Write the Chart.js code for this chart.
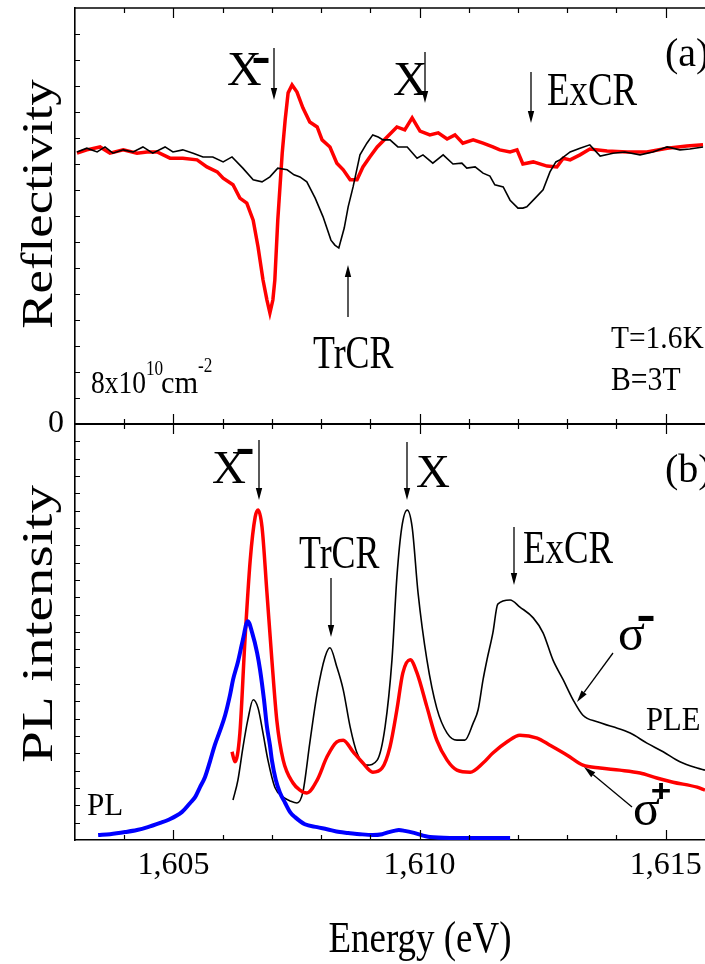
<!DOCTYPE html>
<html><head><meta charset="utf-8">
<script src="https://cdn.jsdelivr.net/npm/chart.js@4.4.1/dist/chart.umd.min.js"></script>
<style>
html,body{margin:0;padding:0;background:#fff;width:705px;height:964px;overflow:hidden;}
#ca{position:absolute;left:0;top:0;}
#cb{position:absolute;left:0;top:420px;}
</style></head><body>
<canvas id="ca" width="705" height="450"></canvas>
<canvas id="cb" width="705" height="544"></canvas>
<script>
// ---------- data ----------
const energyMin = 1.603, energyMax = 1.6158;
const xTickValues = [1.605, 1.610, 1.615];
const xTickLabels = ['1,605', '1,610', '1,615'];
const reflTickValues = [0];
const reflTickLabels = ['0'];

// (a) reflectivity, black trace  [energy eV, reflectivity a.u.]
const reflBlack = [[1.60304,0.654],[1.60324,0.663],[1.60345,0.654],[1.60361,0.666],[1.60377,0.651],[1.60398,0.659],[1.60418,0.654],[1.60438,0.666],[1.60458,0.651],[1.60483,0.666],[1.60499,0.654],[1.60519,0.659],[1.60540,0.651],[1.60560,0.642],[1.60580,0.642],[1.60601,0.630],[1.60619,0.642],[1.60641,0.615],[1.60662,0.587],[1.60680,0.582],[1.60696,0.594],[1.60712,0.615],[1.60731,0.611],[1.60745,0.599],[1.60757,0.594],[1.60771,0.582],[1.60788,0.543],[1.60804,0.498],[1.60820,0.442],[1.60828,0.430],[1.60836,0.423],[1.60847,0.471],[1.60855,0.522],[1.60865,0.570],[1.60871,0.603],[1.60879,0.647],[1.60893,0.675],[1.60905,0.695],[1.60916,0.690],[1.60926,0.683],[1.60940,0.683],[1.60956,0.666],[1.60975,0.666],[1.60995,0.639],[1.61007,0.647],[1.61027,0.627],[1.61048,0.647],[1.61068,0.625],[1.61086,0.627],[1.61096,0.615],[1.61113,0.618],[1.61129,0.603],[1.61143,0.596],[1.61153,0.575],[1.61170,0.570],[1.61184,0.538],[1.61200,0.519],[1.61210,0.519],[1.61218,0.522],[1.61235,0.543],[1.61251,0.563],[1.61265,0.606],[1.61277,0.630],[1.61285,0.635],[1.61306,0.654],[1.61326,0.663],[1.61346,0.671],[1.61367,0.644],[1.61393,0.651],[1.61417,0.654],[1.61448,0.647],[1.61474,0.654],[1.61503,0.666],[1.61529,0.659],[1.61549,0.661],[1.61576,0.666]];

// (a) reflectivity, red trace
const reflRed = [[1.60304,0.651],[1.60324,0.659],[1.60351,0.666],[1.60371,0.651],[1.60398,0.659],[1.60426,0.651],[1.60446,0.654],[1.60467,0.654],[1.60493,0.639],[1.60519,0.639],[1.60548,0.635],[1.60568,0.618],[1.60589,0.606],[1.60601,0.591],[1.60621,0.575],[1.60635,0.543],[1.60649,0.531],[1.60662,0.490],[1.60672,0.425],[1.60682,0.346],[1.60690,0.298],[1.60696,0.267],[1.60702,0.298],[1.60706,0.346],[1.60712,0.490],[1.60721,0.651],[1.60727,0.731],[1.60733,0.796],[1.60741,0.815],[1.60751,0.798],[1.60763,0.760],[1.60777,0.726],[1.60792,0.714],[1.60802,0.683],[1.60818,0.666],[1.60832,0.627],[1.60845,0.611],[1.60859,0.587],[1.60873,0.587],[1.60885,0.618],[1.60899,0.642],[1.60914,0.666],[1.60934,0.690],[1.60954,0.714],[1.60970,0.707],[1.60985,0.736],[1.61001,0.704],[1.61021,0.695],[1.61038,0.700],[1.61056,0.685],[1.61072,0.695],[1.61088,0.675],[1.61109,0.683],[1.61129,0.675],[1.61149,0.666],[1.61163,0.659],[1.61184,0.654],[1.61198,0.659],[1.61210,0.625],[1.61231,0.630],[1.61259,0.620],[1.61279,0.618],[1.61292,0.639],[1.61306,0.635],[1.61326,0.647],[1.61346,0.661],[1.61381,0.656],[1.61422,0.654],[1.61462,0.654],[1.61503,0.663],[1.61543,0.668],[1.61576,0.671]];

// (b) PLE sigma- (black)
const pleSigmaMinus = [[1.60621,0.096],[1.60631,0.144],[1.60641,0.221],[1.60651,0.288],[1.60662,0.337],[1.60672,0.317],[1.60682,0.257],[1.60692,0.192],[1.60706,0.127],[1.60723,0.103],[1.60737,0.094],[1.60751,0.089],[1.60763,0.115],[1.60777,0.233],[1.60792,0.353],[1.60808,0.440],[1.60818,0.462],[1.60832,0.416],[1.60845,0.361],[1.60859,0.272],[1.60873,0.209],[1.60893,0.180],[1.60914,0.192],[1.60930,0.272],[1.60944,0.433],[1.60954,0.632],[1.60964,0.752],[1.60975,0.793],[1.60985,0.752],[1.60997,0.594],[1.61015,0.433],[1.61035,0.317],[1.61056,0.257],[1.61076,0.240],[1.61092,0.240],[1.61109,0.281],[1.61119,0.313],[1.61129,0.385],[1.61137,0.433],[1.61149,0.498],[1.61159,0.567],[1.61184,0.577],[1.61204,0.560],[1.61231,0.534],[1.61251,0.498],[1.61271,0.433],[1.61292,0.385],[1.61312,0.337],[1.61332,0.300],[1.61361,0.284],[1.61393,0.272],[1.61428,0.257],[1.61462,0.233],[1.61495,0.212],[1.61529,0.188],[1.61564,0.173],[1.61580,0.168]];

// (b) PLE sigma+ (red)
const pleSigmaPlus = [[1.60619,0.212],[1.60625,0.188],[1.60635,0.257],[1.60645,0.474],[1.60656,0.673],[1.60666,0.776],[1.60672,0.793],[1.60680,0.752],[1.60690,0.594],[1.60700,0.433],[1.60710,0.288],[1.60723,0.192],[1.60743,0.137],[1.60757,0.120],[1.60771,0.113],[1.60792,0.144],[1.60812,0.200],[1.60832,0.236],[1.60845,0.240],[1.60865,0.212],[1.60885,0.185],[1.60905,0.163],[1.60924,0.173],[1.60940,0.224],[1.60954,0.313],[1.60966,0.401],[1.60981,0.433],[1.60995,0.401],[1.61015,0.320],[1.61035,0.240],[1.61056,0.192],[1.61076,0.168],[1.61103,0.163],[1.61129,0.185],[1.61149,0.209],[1.61178,0.236],[1.61204,0.252],[1.61239,0.245],[1.61265,0.228],[1.61300,0.204],[1.61332,0.180],[1.61367,0.173],[1.61407,0.168],[1.61448,0.161],[1.61482,0.149],[1.61515,0.139],[1.61564,0.127],[1.61580,0.120]];

// (b) PL (blue)
const plSpectrum = [[1.60347,0.012],[1.60371,0.014],[1.60402,0.019],[1.60426,0.024],[1.60448,0.031],[1.60473,0.041],[1.60489,0.048],[1.60517,0.067],[1.60534,0.089],[1.60544,0.103],[1.60554,0.127],[1.60564,0.151],[1.60574,0.188],[1.60584,0.228],[1.60595,0.264],[1.60605,0.300],[1.60615,0.349],[1.60621,0.385],[1.60631,0.428],[1.60641,0.481],[1.60651,0.526],[1.60660,0.498],[1.60670,0.450],[1.60676,0.409],[1.60684,0.337],[1.60690,0.272],[1.60696,0.228],[1.60700,0.192],[1.60708,0.144],[1.60716,0.115],[1.60727,0.089],[1.60737,0.067],[1.60747,0.055],[1.60767,0.038],[1.60792,0.031],[1.60812,0.026],[1.60838,0.019],[1.60855,0.017],[1.60879,0.014],[1.60905,0.012],[1.60924,0.014],[1.60938,0.019],[1.60948,0.022],[1.60958,0.024],[1.60970,0.022],[1.60989,0.017],[1.61021,0.007],[1.61062,0.005],[1.61105,0.005],[1.61143,0.005],[1.61184,0.005]];

// ---------- helpers ----------
const FONT = '"Liberation Serif","Times New Roman",serif';
const SANS = '"Liberation Sans",Arial,sans-serif';
Chart.defaults.font.family = FONT;
Chart.defaults.color = '#000';

const pts = arr => arr.map(p => ({x: p[0], y: p[1]}));
const xMinor = [];
for (let i = 1; i <= 12; i++) xMinor.push(Math.round((1.603 + i * 0.001) * 1e6) / 1e6);
const isMajor = v => xTickValues.some(t => Math.abs(t - v) < 1e-7);

function drawText(ctx, s, x, y, size, sx, o) {
  o = o || {};
  ctx.save();
  ctx.translate(x, y);
  if (o.rot) ctx.rotate(o.rot);
  ctx.scale(sx || 1, 1);
  ctx.font = (o.weight || 'normal') + ' ' + size + 'px ' + (o.family || FONT);
  ctx.textAlign = o.align || 'left';
  ctx.textBaseline = 'alphabetic';
  ctx.fillStyle = '#000';
  ctx.fillText(s, 0, 0);
  ctx.restore();
}
function drawArrow(ctx, x1, y1, x2, y2) {
  ctx.save();
  ctx.strokeStyle = '#000'; ctx.fillStyle = '#000'; ctx.lineWidth = 1.3;
  const a = Math.atan2(y2 - y1, x2 - x1), L = 12, W = 3.2;
  const bx = x2 - L * Math.cos(a), by = y2 - L * Math.sin(a);
  ctx.beginPath(); ctx.moveTo(x1, y1); ctx.lineTo(bx, by); ctx.stroke();
  ctx.beginPath(); ctx.moveTo(x2, y2);
  ctx.lineTo(bx + W * Math.sin(a), by - W * Math.cos(a));
  ctx.lineTo(bx - W * Math.sin(a), by + W * Math.cos(a));
  ctx.closePath(); ctx.fill();
  ctx.restore();
}
function drawFrame(chart, nY, topW, bottomLine, bottomW) {
  const ctx = chart.ctx, ca = chart.chartArea, x = chart.scales.x, y = chart.scales.y;
  ctx.save();
  ctx.strokeStyle = '#000';
  ctx.lineWidth = topW;
  ctx.beginPath(); ctx.moveTo(ca.left, ca.top); ctx.lineTo(ca.right, ca.top); ctx.stroke();
  if (bottomLine) {
    ctx.lineWidth = bottomW;
    ctx.beginPath(); ctx.moveTo(ca.left, ca.bottom); ctx.lineTo(ca.right, ca.bottom); ctx.stroke();
  }
  ctx.lineWidth = 1.2;
  ctx.beginPath();
  xMinor.forEach(v => {
    const px = Math.round(x.getPixelForValue(v)) + 0.5;
    const len = isMajor(v) ? 10 : 5;
    ctx.moveTo(px, ca.top); ctx.lineTo(px, ca.top + len);
    ctx.moveTo(px, ca.bottom); ctx.lineTo(px, ca.bottom - len);
  });
  for (let k = 1; k < nY; k++) {
    const py = Math.round(y.getPixelForValue(k / nY)) + 0.5;
    ctx.moveTo(ca.left, py); ctx.lineTo(ca.left + 5, py);
  }
  ctx.stroke();
  ctx.restore();
}

const baseY = (extra) => Object.assign({
  min: 0, max: 1,
  afterFit(s) { s.width = 75; s.paddingTop = 0; s.paddingBottom = 0; },
  grid: {display: false},
  border: {display: true, color: '#000', width: 1.6}
}, extra);

// ---------- chart (a) ----------
const annA = {
  id: 'annA',
  afterDraw(chart) {
    const ctx = chart.ctx;
    drawFrame(chart, 16, 1.5, true, 2);
    drawText(ctx, 'Reflectivity', 52, 204, 44, 1.2, {rot: -Math.PI / 2, align: 'center'});
    drawText(ctx, 'X', 227, 85, 48);
    drawText(ctx, '-', 261, 72, 42, 1.4, {weight: 'bold', family: SANS, align: 'center'});
    drawArrow(ctx, 274, 48, 274, 100);
    drawText(ctx, 'X', 393, 95, 48);
    drawArrow(ctx, 425, 52, 425, 103);
    drawArrow(ctx, 531, 72, 531, 123);
    drawText(ctx, 'ExCR', 547, 105, 46, 0.8);
    drawText(ctx, '(a)', 665, 66, 40);
    drawArrow(ctx, 348, 317, 348, 265);
    drawText(ctx, 'TrCR', 313, 368, 46, 0.78);
    drawText(ctx, 'T=1.6K', 611, 348, 32, 0.92);
    drawText(ctx, 'B=3T', 611, 390, 33, 0.9);
    drawText(ctx, '8x10', 91, 393, 32, 0.86);
    drawText(ctx, '10', 146, 375, 20, 0.86);
    drawText(ctx, 'cm', 161, 393, 32, 0.95);
    drawText(ctx, '-2', 198, 372, 20, 0.86);
  }
};

new Chart(document.getElementById('ca'), {
  type: 'line',
  data: {datasets: [
    {data: pts(reflBlack), borderColor: '#000000', borderWidth: 1.6, pointRadius: 0, tension: 0},
    {data: pts(reflRed), borderColor: '#ff0000', borderWidth: 3.5, pointRadius: 0, tension: 0}
  ]},
  options: {
    responsive: false, animation: false, devicePixelRatio: 1,
    layout: {padding: {top: 8, bottom: 26, left: 0, right: 0}},
    plugins: {legend: {display: false}, tooltip: {enabled: false}},
    scales: {
      x: {type: 'linear', min: energyMin, max: energyMax, display: false},
      y: baseY({
        afterBuildTicks(s) { s.ticks = reflTickValues.map(v => ({value: v})); },
        ticks: {callback: (v, i) => reflTickLabels[i], font: {family: FONT, size: 32}, color: '#000', padding: 3}
      })
    }
  },
  plugins: [annA]
});

// ---------- chart (b) ----------
const annB = {
  id: 'annB',
  afterDraw(chart) {
    const ctx = chart.ctx;
    drawFrame(chart, 24, 2, false, 0);
    drawText(ctx, 'PL intensity', 52, 204, 44, 1.3, {rot: -Math.PI / 2, align: 'center'});
    drawText(ctx, 'Energy (eV)', 420, 532, 44, 0.84, {align: 'center'});
    drawText(ctx, 'X', 212, 63, 47);
    drawText(ctx, '-', 245, 43, 42, 1.4, {weight: 'bold', family: SANS, align: 'center'});
    drawArrow(ctx, 259, 20, 259, 80);
    drawArrow(ctx, 407, 22, 407, 80);
    drawText(ctx, 'X', 416, 67, 47);
    drawText(ctx, '(b)', 665, 62, 40);
    drawText(ctx, 'TrCR', 299, 148, 46, 0.78);
    drawArrow(ctx, 331, 158, 331, 217);
    drawArrow(ctx, 514, 107, 514, 165);
    drawText(ctx, 'ExCR', 523, 143, 46, 0.8);
    drawText(ctx, 'σ', 618, 230, 50);
    drawText(ctx, '-', 646, 210, 42, 1.4, {weight: 'bold', family: SANS, align: 'center'});
    drawArrow(ctx, 613, 233, 577, 282);
    drawText(ctx, 'PLE', 646, 310, 34, 0.9);
    drawText(ctx, 'σ', 633, 405, 50);
    drawText(ctx, '+', 661, 381, 32, 1.1, {weight: 'bold', family: SANS, align: 'center'});
    drawArrow(ctx, 632, 387, 584, 347);
    drawText(ctx, 'PL', 87, 395, 31);
  }
};

const smooth = {pointRadius: 0, cubicInterpolationMode: 'monotone'};
new Chart(document.getElementById('cb'), {
  type: 'line',
  data: {datasets: [
    Object.assign({data: pts(plSpectrum), borderColor: '#0000ff', borderWidth: 4}, smooth),
    Object.assign({data: pts(pleSigmaPlus), borderColor: '#ff0000', borderWidth: 3.5}, smooth),
    Object.assign({data: pts(pleSigmaMinus), borderColor: '#000000', borderWidth: 1.6}, smooth)
  ]},
  options: {
    responsive: false, animation: false, devicePixelRatio: 1,
    layout: {padding: {top: 4, bottom: 0, left: 0, right: 0}},
    plugins: {legend: {display: false}, tooltip: {enabled: false}},
    scales: {
      x: {
        type: 'linear', min: energyMin, max: energyMax, position: 'bottom',
        afterBuildTicks(s) { s.ticks = xTickValues.map(v => ({value: v})); },
        afterFit(s) { s.height = 124; s.paddingLeft = 0; s.paddingRight = 0; },
        ticks: {callback: (v, i) => xTickLabels[i], font: {family: FONT, size: 32}, color: '#000', padding: 6, maxRotation: 0, autoSkip: false},
        grid: {display: false, drawTicks: false},
        border: {display: true, color: '#000', width: 1.6}
      },
      y: baseY({ticks: {display: false}})
    }
  },
  plugins: [annB]
});
</script>
</body></html>
